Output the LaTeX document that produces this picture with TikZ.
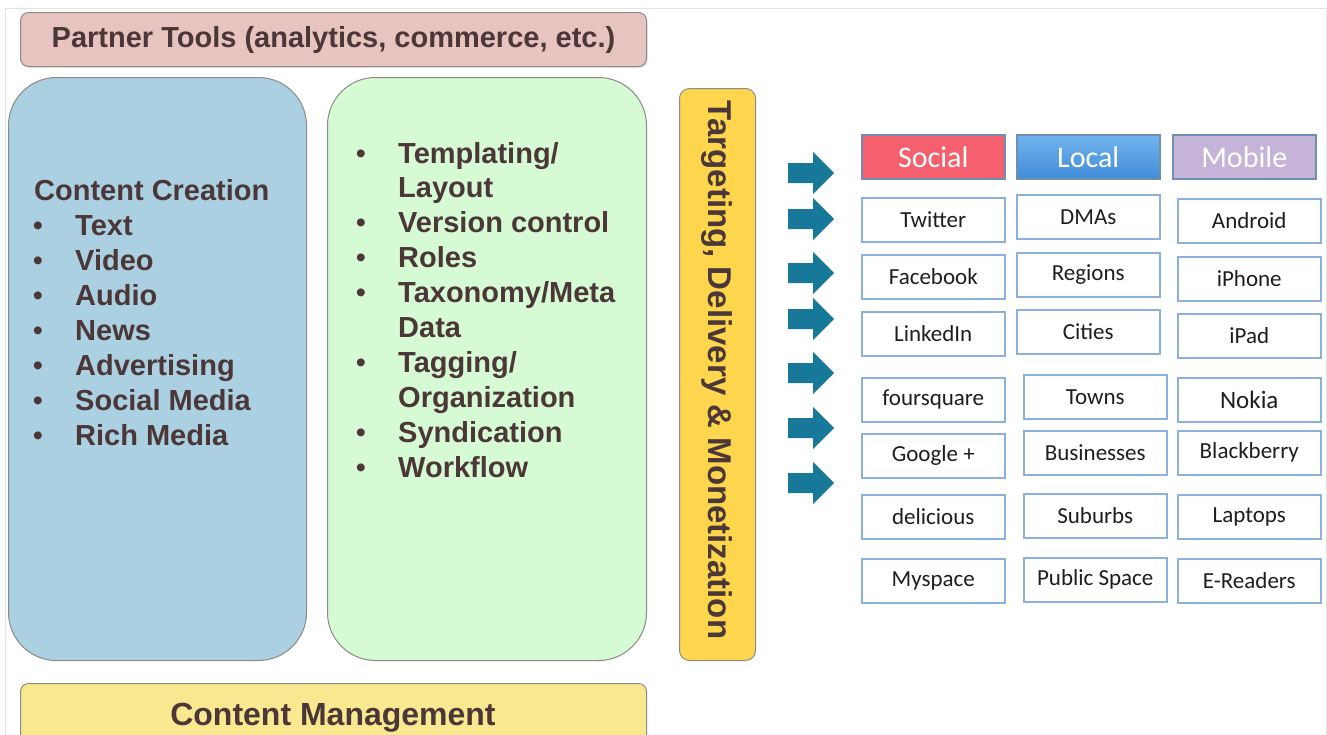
\documentclass[tikz,border=0pt]{standalone}
\usepackage{fontspec}
\setmainfont{Liberation Sans}
\newfontfamily\calfont{Carlito}
\usetikzlibrary{shadows}

\definecolor{framegray}{HTML}{E2E2E2}
\definecolor{panelline}{HTML}{8E8A88}
\definecolor{partnerfill}{HTML}{E7C4BF}
\definecolor{creationfill}{HTML}{ABD0E1}
\definecolor{managefill}{HTML}{D6FAD4}
\definecolor{targetfill}{HTML}{FDD64E}
\definecolor{cmfill}{HTML}{F8E88F}
\definecolor{bodyink}{HTML}{4B3737}
\definecolor{arrowblue}{HTML}{17789A}
\definecolor{itemline}{HTML}{8CB0DE}
\definecolor{socialfill}{HTML}{F5606F}
\definecolor{localtop}{HTML}{72B4EE}
\definecolor{localbot}{HTML}{418BD8}
\definecolor{mobilefill}{HTML}{C5B4D8}
\definecolor{itemink}{HTML}{1E1E1E}

\tikzset{
  panel/.style={draw=panelline, line width=1pt, anchor=north west, inner sep=0pt},
  bodytext/.style={text=bodyink, font=\bfseries\fontsize{29}{35}\selectfont, inner sep=0pt},
  dotmark/.style={text=bodyink, font=\fontsize{29}{35}\selectfont, inner sep=0pt, anchor=base},
  cell/.style={draw=itemline, line width=1.5pt, fill=white, anchor=north west,
    minimum width=143pt, minimum height=44pt, inner sep=0pt, text=itemink,
    font=\calfont\fontsize{23}{27}\selectfont,
    drop shadow={opacity=0.18, shadow xshift=1pt, shadow yshift=-1.5pt}},
  header/.style={cell, draw=itemline!80!black, text=white,
    font=\calfont\fontsize{30}{34}\selectfont},
  pointer/.style={fill=arrowblue}
}

\begin{document}
\begin{tikzpicture}[x=1pt,y=-1pt]
\useasboundingbox (0,0) rectangle (1327,734);
\fill[white] (0,0) rectangle (1327,734);
\draw[framegray, line width=1pt] (5,8) rectangle (1326,760);

% top bar
\node[panel, fill=partnerfill, rounded corners=8pt, minimum width=626pt, minimum height=54pt,
  drop shadow={opacity=0.2, shadow xshift=1pt, shadow yshift=-1.5pt}] (partner) at (20,12) {};
\node[bodytext] (partnertext) at (partner.center) {Partner Tools (analytics, commerce, etc.)};

% two main panels
\node[panel, fill=creationfill, rounded corners=48pt, minimum width=298pt, minimum height=583pt] (creation) at (8,77) {};
\node[panel, fill=managefill, rounded corners=48pt, minimum width=319pt, minimum height=583pt] (manage) at (327,77) {};

% content creation list
\node[bodytext, anchor=base west] (cctitle) at (34,200) {Content Creation};
\foreach \t [count=\i] in {Text,Video,Audio,News,Advertising,Social Media,Rich Media} {
  \node[bodytext, anchor=base west] (cc\i) at (75,200+35*\i) {\t};
  \node[dotmark] (ccdot\i) at (38,200+35*\i) {\textbullet};
}

% content management feature list
\foreach \b/\t [count=\i from 0] in {1/Templating\slash,0/Layout,1/Version control,1/Roles,
    1/Taxonomy\slash Meta,0/Data,1/Tagging\slash,0/Organization,1/Syndication,1/Workflow} {
  \node[bodytext, anchor=base west] (cm\i) at (398,163+34.9*\i) {\t};
  \ifnum\b=1
    \node[dotmark] (cmdot\i) at (361,163+34.9*\i) {\textbullet};
  \fi
}

% vertical delivery bar
\node[panel, fill=targetfill, rounded corners=10pt, minimum width=76pt, minimum height=572pt] (target) at (679,88) {};
\node[bodytext, font=\bfseries\fontsize{33}{38}\selectfont, rotate=-90] (targettext) at (717,370) {Targeting, Delivery \& Monetization};

% bottom bar
\node[panel, fill=cmfill, rounded corners=8pt, minimum width=626pt, minimum height=64pt] (cmbar) at (20,683) {};
\node[bodytext, font=\bfseries\fontsize{32}{38}\selectfont, anchor=base] (cmtext) at (333,725) {Content Management};

% arrows
\foreach \c [count=\i] in {173,219,273,319,373,428,483} {
  \fill[pointer] (788,\c-10) -- (813,\c-10) -- (813,\c-21) -- (834,\c)
    -- (813,\c+21) -- (813,\c+10) -- (788,\c+10) -- cycle;
}

% column headers
\node[header, fill=socialfill] (social) at (861,134) {Social};
\node[header, top color=localtop, bottom color=localbot] (local) at (1016,134) {Local};
\node[header, fill=mobilefill] (mobile) at (1172,134) {Mobile};

% social column
\node[cell] (twitter) at (861,197) {Twitter};
\node[cell] (facebook) at (861,254) {Facebook};
\node[cell] (linkedin) at (861,311) {LinkedIn};
\node[cell] (foursquare) at (861,377) {foursquare};
\node[cell] (googleplus) at (861,433) {Google +};
\node[cell] (delicious) at (861,494) {delicious};
\node[cell] (myspace) at (861,558) {Myspace};

% local column
\node[cell] (dmas) at (1016,194) {DMAs};
\node[cell] (regions) at (1016,252) {Regions};
\node[cell] (cities) at (1016,309) {Cities};
\node[cell] (towns) at (1023,374) {Towns};
\node[cell] (businesses) at (1023,430) {Businesses};
\node[cell] (suburbs) at (1023,493) {Suburbs};
\node[cell] (publicspace) at (1023,557) {Public Space};

% mobile column
\node[cell] (android) at (1177,198) {Android};
\node[cell] (iphone) at (1177,256) {iPhone};
\node[cell] (ipad) at (1177,313) {iPad};
\node[cell, font=\calfont\fontsize{25}{29}\selectfont] (nokia) at (1177,377) {Nokia};
\node[cell] (blackberry) at (1177,430) {Blackberry};
\node[cell] (laptops) at (1177,494) {Laptops};
\node[cell] (ereaders) at (1177,558) {E-Readers};
\end{tikzpicture}
\end{document}
